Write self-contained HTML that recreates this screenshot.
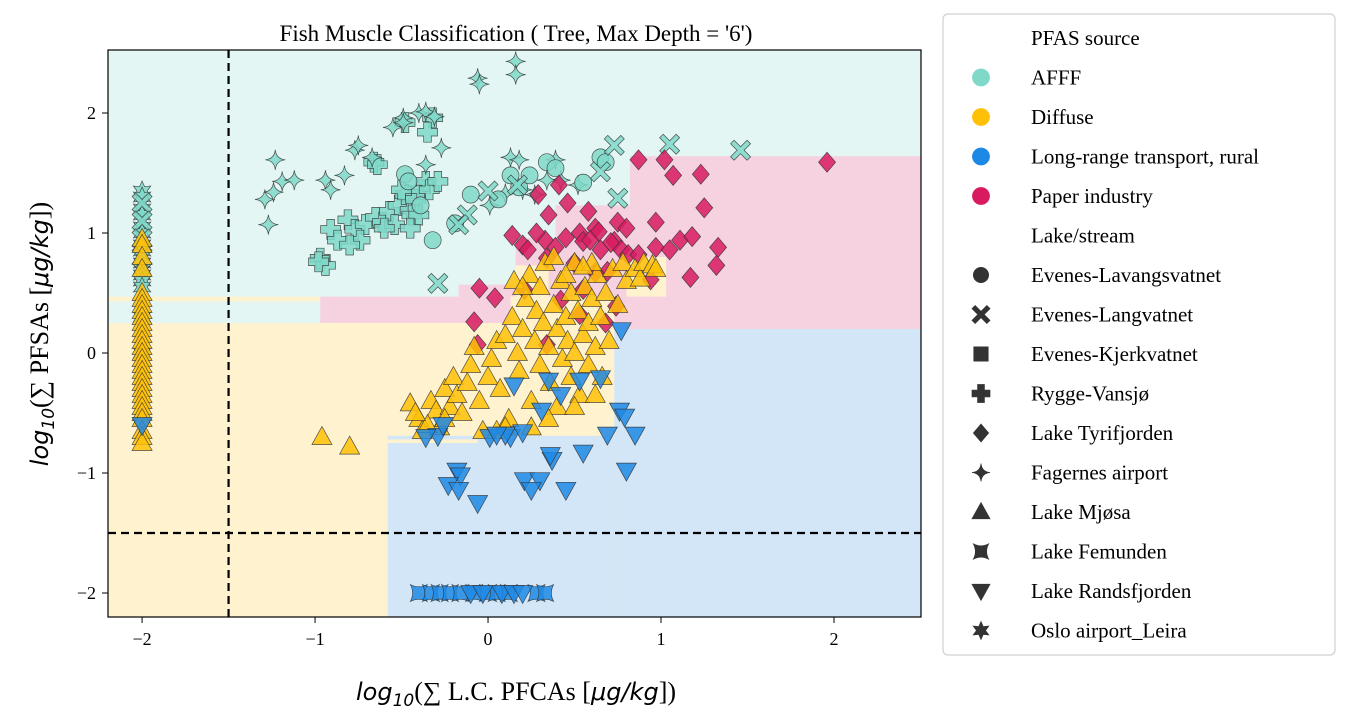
<!DOCTYPE html>
<html><head><meta charset="utf-8"><style>
body{margin:0;background:#fff;}
svg{display:block;font-family:"Liberation Serif",serif;}
</style></head><body>
<svg id="chart" width="1350" height="723" xmlns="http://www.w3.org/2000/svg">
<text x="516" y="41" text-anchor="middle" font-size="23">Fish Muscle Classification ( Tree, Max Depth = '6')</text>
<g id="regions"></g>
<g id="grid"></g>
<g id="points"></g>
<rect x="108" y="50" width="813" height="567" fill="none" stroke="#000" stroke-width="1.2"/>
<g id="ticks"></g>
<text x="516" y="700" text-anchor="middle" font-size="26"><tspan font-family="DejaVu Sans,sans-serif" font-style="italic" font-size="24">log</tspan><tspan font-family="DejaVu Sans,sans-serif" font-style="italic" font-size="17" dy="6">10</tspan><tspan dy="-6">(∑ L.C. PFCAs [</tspan><tspan font-family="DejaVu Sans,sans-serif" font-style="italic" font-size="24">μg/kg</tspan><tspan>])</tspan></text>
<text transform="translate(48,334) rotate(-90)" text-anchor="middle" font-size="26"><tspan font-family="DejaVu Sans,sans-serif" font-style="italic" font-size="24">log</tspan><tspan font-family="DejaVu Sans,sans-serif" font-style="italic" font-size="17" dy="6">10</tspan><tspan dy="-6">(∑ PFSAs [</tspan><tspan font-family="DejaVu Sans,sans-serif" font-style="italic" font-size="24">μg/kg</tspan><tspan>])</tspan></text>
<g id="legend">
<rect x="943" y="14" width="392" height="641" rx="5" fill="#fff" stroke="#d0d0d0" stroke-width="1.2"/>
</g>
</svg>
<script>
const NS="http://www.w3.org/2000/svg";
const xTicks=[-2,-1,0,1,2];
const yTicks=[-2,-1,0,1,2];
const xDomain=[-2.197,2.503];
const yDomain=[-2.2,2.525];
const cutX=-1.5, cutY=-1.5;
// decision regions: [x0,x1,y0,y1,class]
const regionBoxes=[
[-2.2,2.6,-2.3,2.6,"AFFF"],
[-2.2,0.73,-2.3,0.25,"Diffuse"],
[-2.2,-0.97,0.43,0.47,"Diffuse"],
[-0.97,0.13,0.25,0.47,"Paper"],
[-0.17,0.16,0.47,0.57,"Paper"],
[0.16,0.82,0.20,0.96,"Paper"],
[0.39,0.82,0.96,1.23,"Paper"],
[0.82,2.6,0.20,1.64,"Paper"],
[0.13,0.73,-0.69,0.47,"Diffuse"],
[0.16,0.35,0.47,0.73,"Diffuse"],
[0.80,1.03,0.47,0.80,"Diffuse"],
[0.73,2.6,-2.3,0.20,"LRT"],
[-0.58,0.73,-2.3,-0.69,"LRT"],
[-0.58,-0.06,-0.75,-0.72,"Diffuse"]
];
const regionColor={AFFF:"#e3f6f3",Diffuse:"#fff2cf",Paper:"#f6d1e0",LRT:"#d2e6f8"};
const srcColor={AFFF:"#7fd8c8",Diffuse:"#ffc107",LRT:"#1e88e5",Paper:"#d81b60"};

// series data [x,y]
const afffCircle=[[-0.48,1.49],[-0.46,1.43],[-0.32,0.94],[-0.19,1.08],[-0.10,1.32],[0.06,1.28],[0.18,1.38],[0.13,1.48],[0.34,1.59],[0.39,1.54],[0.65,1.63],[0.68,1.59],[0.55,1.42],[-0.39,1.23],[0.24,1.48]];
const afffX=[[-0.29,0.58],[0.73,1.73],[1.05,1.74],[1.46,1.69],[0.65,1.51],[0.0,1.35],[-0.12,1.15],[-0.17,1.07],[0.75,1.29],[0.17,1.4],[-2,1.25],[-2,1.1],[-2,0.95],[-2,0.8]];
const afffPlus=[[-0.48,1.92],[-0.32,1.96],[-0.35,1.84],[-0.66,1.59],[-0.64,1.57],[-0.91,1.03],[-0.87,0.94],[-0.81,1.11],[-0.77,1.03],[-0.71,1.07],[-0.65,1.13],[-0.61,1.09],[-0.57,1.18],[-0.52,1.23],[-0.48,1.32],[-0.45,1.19],[-0.42,1.28],[-0.39,1.36],[-0.36,1.43],[-0.54,1.07],[-0.74,0.94],[-0.97,0.79],[-0.94,0.73],[-0.98,0.76],[-0.80,0.90],[-0.60,1.04],[-0.44,1.15],[-0.50,1.36],[-0.40,1.15],[-0.34,1.36],[-0.29,1.43],[-0.45,1.04]];
const afffStar4=[[-1.23,1.61],[-1.27,1.07],[-1.19,1.43],[-1.12,1.44],[-1.29,1.28],[-1.24,1.34],[-0.94,1.44],[-0.83,1.48],[-0.77,1.69],[-0.75,1.73],[-0.91,1.36],[-0.67,1.63],[-0.49,1.96],[-0.40,2.0],[-0.36,2.01],[-0.06,2.29],[-0.05,2.24],[0.16,2.43],[0.16,2.32],[-0.55,1.88],[-0.49,1.92],[-0.31,1.97],[0.10,1.33],[0.39,1.61],[0.52,1.40],[0.20,1.36],[0.27,1.32],[0.42,1.44],[0.13,1.63],[0.18,1.61],[0.34,1.44],[0.01,1.23],[-0.27,1.71],[-0.36,1.57]];
const afffStar6=[[-2,1.35],[-2,1.3],[-2,1.2],[-2,1.15],[-2,1.05],[-2,1.0],[-2,0.9],[-2,0.85],[-2,0.75],[-2,0.7],[-2,0.65],[-2,0.6],[-2,0.55],[-2,0.3],[-2,0.0]];
const paperDiamond=[[0.87,1.61],[1.02,1.61],[1.07,1.48],[1.23,1.49],[1.96,1.59],[0.41,1.40],[0.29,1.32],[0.35,1.15],[0.46,1.25],[0.58,1.18],[0.62,1.04],[0.75,1.09],[0.80,1.04],[0.97,1.09],[1.11,0.94],[1.18,0.97],[1.25,1.21],[1.33,0.88],[1.17,0.63],[1.32,0.73],[0.64,1.01],[0.53,1.0],[0.55,0.93],[0.73,0.93],[0.77,0.86],[0.81,0.82],[0.14,0.98],[0.20,0.90],[0.33,0.94],[0.28,1.0],[0.23,0.86],[0.45,0.96],[-0.05,0.54],[0.04,0.46],[0.21,0.53],[0.42,0.44],[0.50,0.75],[0.69,0.68],[0.62,0.67],[0.94,0.61],[0.97,0.88],[1.05,0.86],[0.71,0.92],[0.59,0.94],[0.65,0.86],[0.39,0.88],[0.34,0.79],[0.55,0.53],[0.74,0.39],[0.68,0.25],[0.53,0.32],[-0.06,0.07],[-0.08,0.26],[0.34,0.07],[0.87,0.82]];
const diffuseTri=[[-0.45,-0.42],[-0.40,-0.55],[-0.38,-0.65],[-0.33,-0.40],[-0.30,-0.48],[-0.28,-0.62],[-0.25,-0.30],[-0.22,-0.45],[-0.20,-0.20],[-0.18,-0.35],[-0.15,-0.50],[-0.12,-0.25],[-0.10,-0.10],[-0.08,0.05],[-0.05,-0.40],[-0.03,-0.65],[0.00,-0.20],[0.02,-0.05],[0.05,0.10],[0.07,-0.30],[0.10,0.15],[0.12,-0.55],[0.14,0.30],[0.15,0.60],[0.17,0.00],[0.18,-0.15],[0.20,0.20],[0.22,0.45],[0.24,0.65],[0.25,-0.40],[0.27,0.10],[0.28,0.35],[0.30,0.55],[0.30,-0.10],[0.32,0.25],[0.33,0.75],[0.35,0.05],[0.36,-0.25],[0.38,0.40],[0.40,0.20],[0.40,-0.45],[0.42,0.60],[0.43,-0.05],[0.45,0.30],[0.46,0.10],[0.48,0.50],[0.48,-0.20],[0.50,0.75],[0.50,0.00],[0.52,0.35],[0.53,-0.35],[0.55,0.15],[0.56,0.55],[0.58,0.25],[0.58,-0.10],[0.60,0.45],[0.62,0.05],[0.63,0.65],[0.65,0.30],[0.66,-0.20],[0.68,0.50],[0.70,0.10],[0.72,0.70],[0.75,0.40],[0.78,0.75],[0.80,0.60],[0.85,0.70],[0.88,0.62],[0.90,0.75],[0.95,0.73],[0.97,0.70],[0.10,-0.62],[0.25,-0.62],[0.35,-0.55],[0.50,-0.45],[0.62,-0.35],[0.45,0.65],[0.60,0.75],[0.20,0.55],[-0.35,-0.60],[-0.42,-0.50],[-0.25,-0.55],[0.05,-0.65],[0.38,0.80],[0.55,0.72],[-0.96,-0.70],[-0.80,-0.78],
[-2,0.95],[-2,0.9],[-2,0.8],[-2,0.7],[-2,0.5],[-2,0.45],[-2,0.4],[-2,0.35],[-2,0.3],[-2,0.25],[-2,0.2],[-2,0.15],[-2,0.1],[-2,0.05],[-2,0.0],[-2,-0.05],[-2,-0.1],[-2,-0.15],[-2,-0.2],[-2,-0.25],[-2,-0.3],[-2,-0.35],[-2,-0.4],[-2,-0.45],[-2,-0.5],[-2,-0.55],[-2,-0.65],[-2,-0.7],[-2,-0.75]];
const lrtTriDown=[[-0.29,-0.69],[-0.36,-0.70],[0.01,-0.70],[0.13,-0.70],[0.35,-0.23],[0.65,-0.21],[0.77,0.19],[0.76,-0.48],[0.79,-0.53],[0.85,-0.68],[0.80,-0.98],[0.69,-0.68],[0.55,-0.83],[0.37,-0.89],[0.36,-0.85],[0.31,-0.48],[0.20,-0.66],[0.10,-0.68],[0.05,-0.68],[-0.18,-0.98],[-0.16,-1.02],[-0.23,-1.10],[-0.17,-1.14],[-0.06,-1.25],[0.21,-1.06],[0.30,-1.06],[0.25,-1.14],[0.45,-1.14],[0.15,-0.27],[-0.26,-0.60],[0.42,-0.35],[0.53,-0.23],[-2,-0.6],[-0.1,-2.0],[-0.03,-2.0],[0.08,-2.0],[0.15,-2.0],[0.2,-2.0]];
const lrtFemunden=[[-0.4,-2],[-0.33,-2],[-0.28,-2],[-0.22,-2],[-0.16,-2],[-0.08,-2],[0.0,-2],[0.05,-2],[0.12,-2],[0.28,-2],[0.33,-2]];

function sx(v){return 108+(v-xDomain[0])/(xDomain[1]-xDomain[0])*813;}
function sy(v){return 617-(v-yDomain[0])/(yDomain[1]-yDomain[0])*567;}
function clampX(v){return Math.max(108,Math.min(921,v));}
function clampY(v){return Math.max(50,Math.min(617,v));}

const reg=document.getElementById('regions');
regionBoxes.forEach(b=>{
  const r=document.createElementNS(NS,'rect');
  const x0=clampX(sx(b[0])),x1=clampX(sx(b[1])),y0=clampY(sy(b[3])),y1=clampY(sy(b[2]));
  r.setAttribute('x',x0);r.setAttribute('y',y0);r.setAttribute('width',x1-x0);r.setAttribute('height',y1-y0);
  r.setAttribute('fill',regionColor[b[4]]);
  
  
  reg.appendChild(r);
});
const g=document.getElementById('grid');
const vl=document.createElementNS(NS,'line');
vl.setAttribute('x1',sx(cutX));vl.setAttribute('x2',sx(cutX));vl.setAttribute('y1',50);vl.setAttribute('y2',617);
vl.setAttribute('stroke','#000');vl.setAttribute('stroke-width','2.2');vl.setAttribute('stroke-dasharray','8,5');


g.appendChild(vl);
const hl=document.createElementNS(NS,'line');
hl.setAttribute('y1',sy(cutY));hl.setAttribute('y2',sy(cutY));hl.setAttribute('x1',108);hl.setAttribute('x2',921);
hl.setAttribute('stroke','#000');hl.setAttribute('stroke-width','2.2');hl.setAttribute('stroke-dasharray','8,5');


g.appendChild(hl);

function shapePath(shape,s){
  switch(shape){
    case 'circle': return null;
    case 'x': {const a=s*0.35,b=s;return `M${-b} ${-b+a}L${-a} 0L${-b} ${b-a}L${-b+a} ${b}L0 ${a}L${b-a} ${b}L${b} ${b-a}L${a} 0L${b} ${-b+a}L${b-a} ${-b}L0 ${-a}L${-b+a} ${-b}Z`;}
    case 'square': return `M${-s*0.8} ${-s*0.8}H${s*0.8}V${s*0.8}H${-s*0.8}Z`;
    case 'plus': {const a=s*0.38;return `M${-a} ${-s}H${a}V${-a}H${s}V${a}H${a}V${s}H${-a}V${a}H${-s}V${-a}H${-a}Z`;}
    case 'diamond': return `M0 ${-s}L${s*0.85} 0L0 ${s}L${-s*0.85} 0Z`;
    case 'star4': {const a=s*0.3;return `M0 ${-s}Q${a*0.3} ${-a*0.3} ${s} 0Q${a*0.3} ${a*0.3} 0 ${s}Q${-a*0.3} ${a*0.3} ${-s} 0Q${-a*0.3} ${-a*0.3} 0 ${-s}Z`;}
    case 'tri': return `M0 ${-s*1.05}L${s} ${s*0.75}L${-s} ${s*0.75}Z`;
    case 'femunden': {const b=s*0.85,c=s*0.4;return `M${-b} ${-b}Q0 ${-c} ${b} ${-b}Q${c} 0 ${b} ${b}Q0 ${c} ${-b} ${b}Q${-c} 0 ${-b} ${-b}Z`;}
    case 'tridown': return `M0 ${s*1.05}L${s} ${-s*0.75}L${-s} ${-s*0.75}Z`;
    case 'star6': {let d='';for(let i=0;i<12;i++){const r=i%2?s*0.5:s;const an=-Math.PI/2+i*Math.PI/6;d+=(i?'L':'M')+(r*Math.cos(an)).toFixed(2)+' '+(r*Math.sin(an)).toFixed(2);}return d+'Z';}
  }
}
function marker(parent,shape,cx,cy,fill,s,alpha,stroke){
  let el;
  if(shape==='circle'){el=document.createElementNS(NS,'circle');el.setAttribute('cx',cx);el.setAttribute('cy',cy);el.setAttribute('r',s*0.85);}
  else{el=document.createElementNS(NS,'path');el.setAttribute('d',shapePath(shape,s));el.setAttribute('transform',`translate(${cx},${cy})`);}
  el.setAttribute('fill',fill);el.setAttribute('fill-opacity',alpha);
  el.setAttribute('stroke',stroke);el.setAttribute('stroke-width','0.7');el.setAttribute('stroke-opacity',alpha);
  parent.appendChild(el);
  return el;
}
const pts=document.getElementById('points');
function drawSeries(arr,shape,src,name){
  arr.forEach(p=>{
    const el=marker(pts,shape,sx(p[0]),sy(p[1]),srcColor[src],10,0.85,'#333');
    
    
  });
}
drawSeries(afffStar6,'star6','AFFF','point-oslo-airport');
drawSeries(afffPlus,'plus','AFFF','point-rygge-vansjo');
drawSeries(afffStar4,'star4','AFFF','point-fagernes-airport');
drawSeries(afffCircle,'circle','AFFF','point-evenes-lavangsvatnet');
drawSeries(afffX,'x','AFFF','point-evenes-langvatnet');
drawSeries(paperDiamond,'diamond','Paper','point-lake-tyrifjorden');
drawSeries(diffuseTri,'tri','Diffuse','point-lake-mjosa');
drawSeries(lrtFemunden,'femunden','LRT','point-lake-femunden');
drawSeries(lrtTriDown,'tridown','LRT','point-lake-randsfjorden');

const tk=document.getElementById('ticks');
xTicks.forEach(v=>{
  const x=sx(v);
  const l=document.createElementNS(NS,'line');
  l.setAttribute('x1',x);l.setAttribute('x2',x);l.setAttribute('y1',617);l.setAttribute('y2',623);l.setAttribute('stroke','#000');
  
  
  tk.appendChild(l);
  const t=document.createElementNS(NS,'text');
  t.setAttribute('x',x);t.setAttribute('y',645);t.setAttribute('text-anchor','middle');t.setAttribute('font-size','18');
  t.textContent=v<0?'\u2212'+(-v):String(v);
  
  
  tk.appendChild(t);
});
yTicks.forEach(v=>{
  const y=sy(v);
  const l=document.createElementNS(NS,'line');
  l.setAttribute('x1',102);l.setAttribute('x2',108);l.setAttribute('y1',y);l.setAttribute('y2',y);l.setAttribute('stroke','#000');
  
  
  tk.appendChild(l);
  const t=document.createElementNS(NS,'text');
  t.setAttribute('x',96);t.setAttribute('y',y+6);t.setAttribute('text-anchor','end');t.setAttribute('font-size','18');
  t.textContent=v<0?'\u2212'+(-v):String(v);
  
  
  tk.appendChild(t);
});

const legendItems=[
 ['header','PFAS source'],['circle','AFFF','#7fd8c8'],['circle','Diffuse','#ffc107'],['circle','Long-range transport, rural','#1e88e5'],['circle','Paper industry','#d81b60'],
 ['header','Lake/stream'],['circle','Evenes-Lavangsvatnet'],['x','Evenes-Langvatnet'],['square','Evenes-Kjerkvatnet'],['plus','Rygge-Vansjø'],['diamond','Lake Tyrifjorden'],['star4','Fagernes airport'],['tri','Lake Mjøsa'],['femunden','Lake Femunden'],['tridown','Lake Randsfjorden'],['star6','Oslo airport_Leira']
];
const lg=document.getElementById('legend');
legendItems.forEach((it,i)=>{
  const y=38+i*39.5;
  if(it[0]!=='header'){
    const m=marker(lg,it[0],981,y,it[2]||'#333',it[2]?10.5:9,1,it[2]?'none':'#333');
    
    
  }
  const t=document.createElementNS(NS,'text');
  t.setAttribute('x',1031);t.setAttribute('y',y+7);t.setAttribute('font-size','21');
  t.textContent=it[1];
  
  
  lg.appendChild(t);
});
</script>
</body></html>
